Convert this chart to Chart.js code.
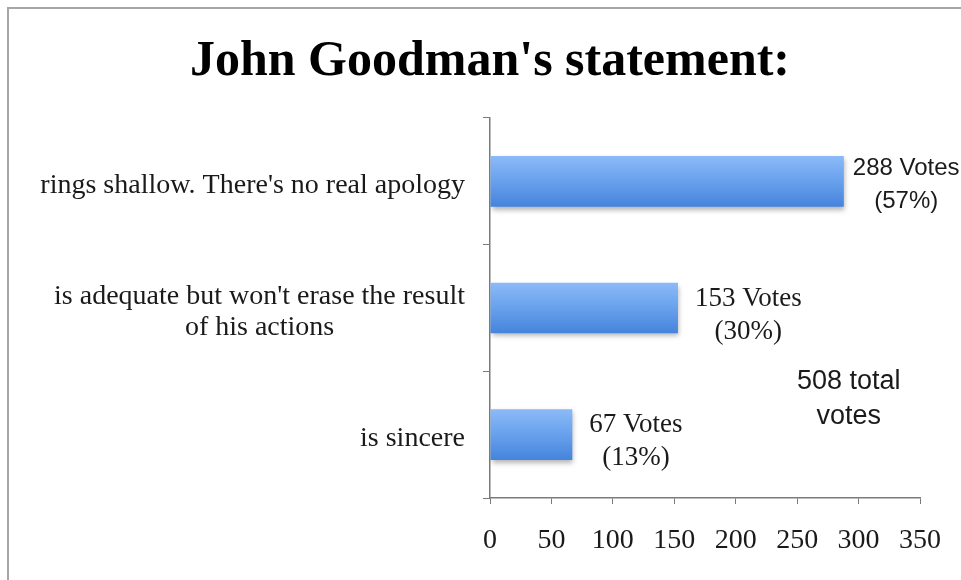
<!DOCTYPE html>
<html>
<head>
<meta charset="utf-8">
<script src="https://cdn.jsdelivr.net/npm/chart.js@4/dist/chart.umd.min.js"></script>
<style>
  html, body { margin: 0; padding: 0; background: #fff; }
  #wrap { position: relative; width: 961px; height: 580px; overflow: hidden; }
  #frame { position: absolute; left: 7px; top: 7px; width: 960px; height: 580px;
           border-left: 2px solid #a6a6a6; border-top: 2px solid #a6a6a6; }
  canvas { position: absolute; left: 0; top: 0; }
</style>
</head>
<body>
<div id="wrap">
  <div id="frame"></div>
  <canvas id="chart" width="961" height="580"></canvas>
</div>
<script>
// Data
const categories = [
    ["rings shallow. There's no real apology"],
    ["is adequate but won't erase the result", "of his actions"],
    ["is sincere"]
];
const votes = [288, 153, 67];
const voteLabels = [["288 Votes", "(57%)"], ["153 Votes", "(30%)"], ["67 Votes", "(13%)"]];
const totalNote = ["508 total", "votes"];
const xMin = 0, xMax = 350, xStep = 50;

// label styling
const voteLabelFonts = ['24px "Liberation Sans"', '27px "Liberation Serif"', '27px "Liberation Serif"'];
const voteLabelGaps = [9, 17, 17];

const serif = '"Liberation Serif", "Times New Roman", serif';
const textColor = '#1a1a1a';
const axisColor = '#7a7a7a';
const barPct = 0.4;

// vertical gradient per bar, computed from the category scale
const barFill = (ctx) => {
    const chart = ctx.chart;
    const y = chart.scales && chart.scales.y;
    if (!chart.chartArea || !y) return '#6aa2ee';
    const c = y.getPixelForValue(ctx.dataIndex);
    const half = (y.height / categories.length) * barPct / 2;
    const g = chart.ctx.createLinearGradient(0, c - half, 0, c + half);
    g.addColorStop(0, '#8cbaf7');
    g.addColorStop(0.4, '#6fa6ef');
    g.addColorStop(1, '#4584dc');
    return g;
};

const barShadow = {
    id: 'barShadow',
    beforeDatasetsDraw(chart) {
        const ctx = chart.ctx;
        ctx.save();
        ctx.shadowColor = 'rgba(0,0,0,0.3)';
        ctx.shadowBlur = 5;
        ctx.shadowOffsetY = 3;
        ctx.shadowOffsetX = 1;
    },
    afterDatasetsDraw(chart) {
        chart.ctx.restore();
    }
};

const categoryLabels = {
    id: 'categoryLabels',
    afterDraw(chart) {
        const { ctx, scales: { y }, chartArea } = chart;
        ctx.save();
        ctx.font = '28px ' + serif;
        ctx.fillStyle = textColor;
        ctx.textBaseline = 'middle';
        ctx.textAlign = 'center';
        const lh = 31;
        categories.forEach((lines, i) => {
            const w = Math.max(...lines.map(l => ctx.measureText(l).width));
            const cx = chartArea.left - 25 - w / 2;
            const cy = y.getPixelForValue(i) + 4;
            lines.forEach((l, k) => {
                ctx.fillText(l, cx, cy + (k - (lines.length - 1) / 2) * lh);
            });
        });
        ctx.restore();
    }
};

const valueLabels = {
    id: 'valueLabels',
    afterDraw(chart) {
        const { ctx, scales: { x, y } } = chart;
        const meta = chart.getDatasetMeta(0);
        ctx.save();
        ctx.fillStyle = textColor;
        ctx.textBaseline = 'middle';
        ctx.textAlign = 'center';
        meta.data.forEach((bar, i) => {
            ctx.font = voteLabelFonts[i];
            const lines = voteLabels[i];
            const w = Math.max(...lines.map(l => ctx.measureText(l).width));
            const cx = bar.x + voteLabelGaps[i] + w / 2;
            const cy = bar.y + (i === 0 ? 4 : 7);
            lines.forEach((l, k) => ctx.fillText(l, cx, cy + (k - 0.5) * 33));
        });
        // total votes note
        ctx.font = '27px "Liberation Sans", sans-serif';
        const nx = x.getPixelForValue(292);
        const ny = y.getPixelForValue(1.72);
        totalNote.forEach((l, k) => ctx.fillText(l, nx, ny + (k - 0.5) * 35));
        ctx.restore();
    }
};

new Chart(document.getElementById('chart'), {
    type: 'bar',
    data: {
        labels: categories,
        datasets: [{
            data: votes,
            backgroundColor: barFill,
            borderWidth: 0,
            categoryPercentage: 1,
            barPercentage: barPct
        }]
    },
    options: {
        indexAxis: 'y',
        responsive: false,
        animation: false,
        layout: { padding: { left: 60, right: 41, top: 0, bottom: 0 } },
        plugins: {
            legend: { display: false },
            tooltip: { enabled: false },
            title: {
                display: true,
                text: "John Goodman's statement:",
                color: '#000',
                font: { family: serif, size: 50, weight: 'bold' },
                padding: { top: 32, bottom: 26 }
            }
        },
        scales: {
            x: {
                min: xMin, max: xMax,
                ticks: { stepSize: xStep, color: textColor, font: { family: serif, size: 28 }, padding: 20, maxRotation: 0 },
                grid: { drawOnChartArea: false, drawTicks: true, tickLength: 6, color: axisColor },
                border: { color: axisColor, width: 1.5 },
                afterFit: (s) => { s.height = 82; }
            },
            y: {
                ticks: { display: false },
                grid: { drawOnChartArea: false, drawTicks: true, tickLength: 7, offset: true, color: axisColor },
                border: { color: axisColor, width: 1.5 },
                afterFit: (s) => { s.width = 430; }
            }
        }
    },
    plugins: [barShadow, categoryLabels, valueLabels]
});
</script>
</body>
</html>
